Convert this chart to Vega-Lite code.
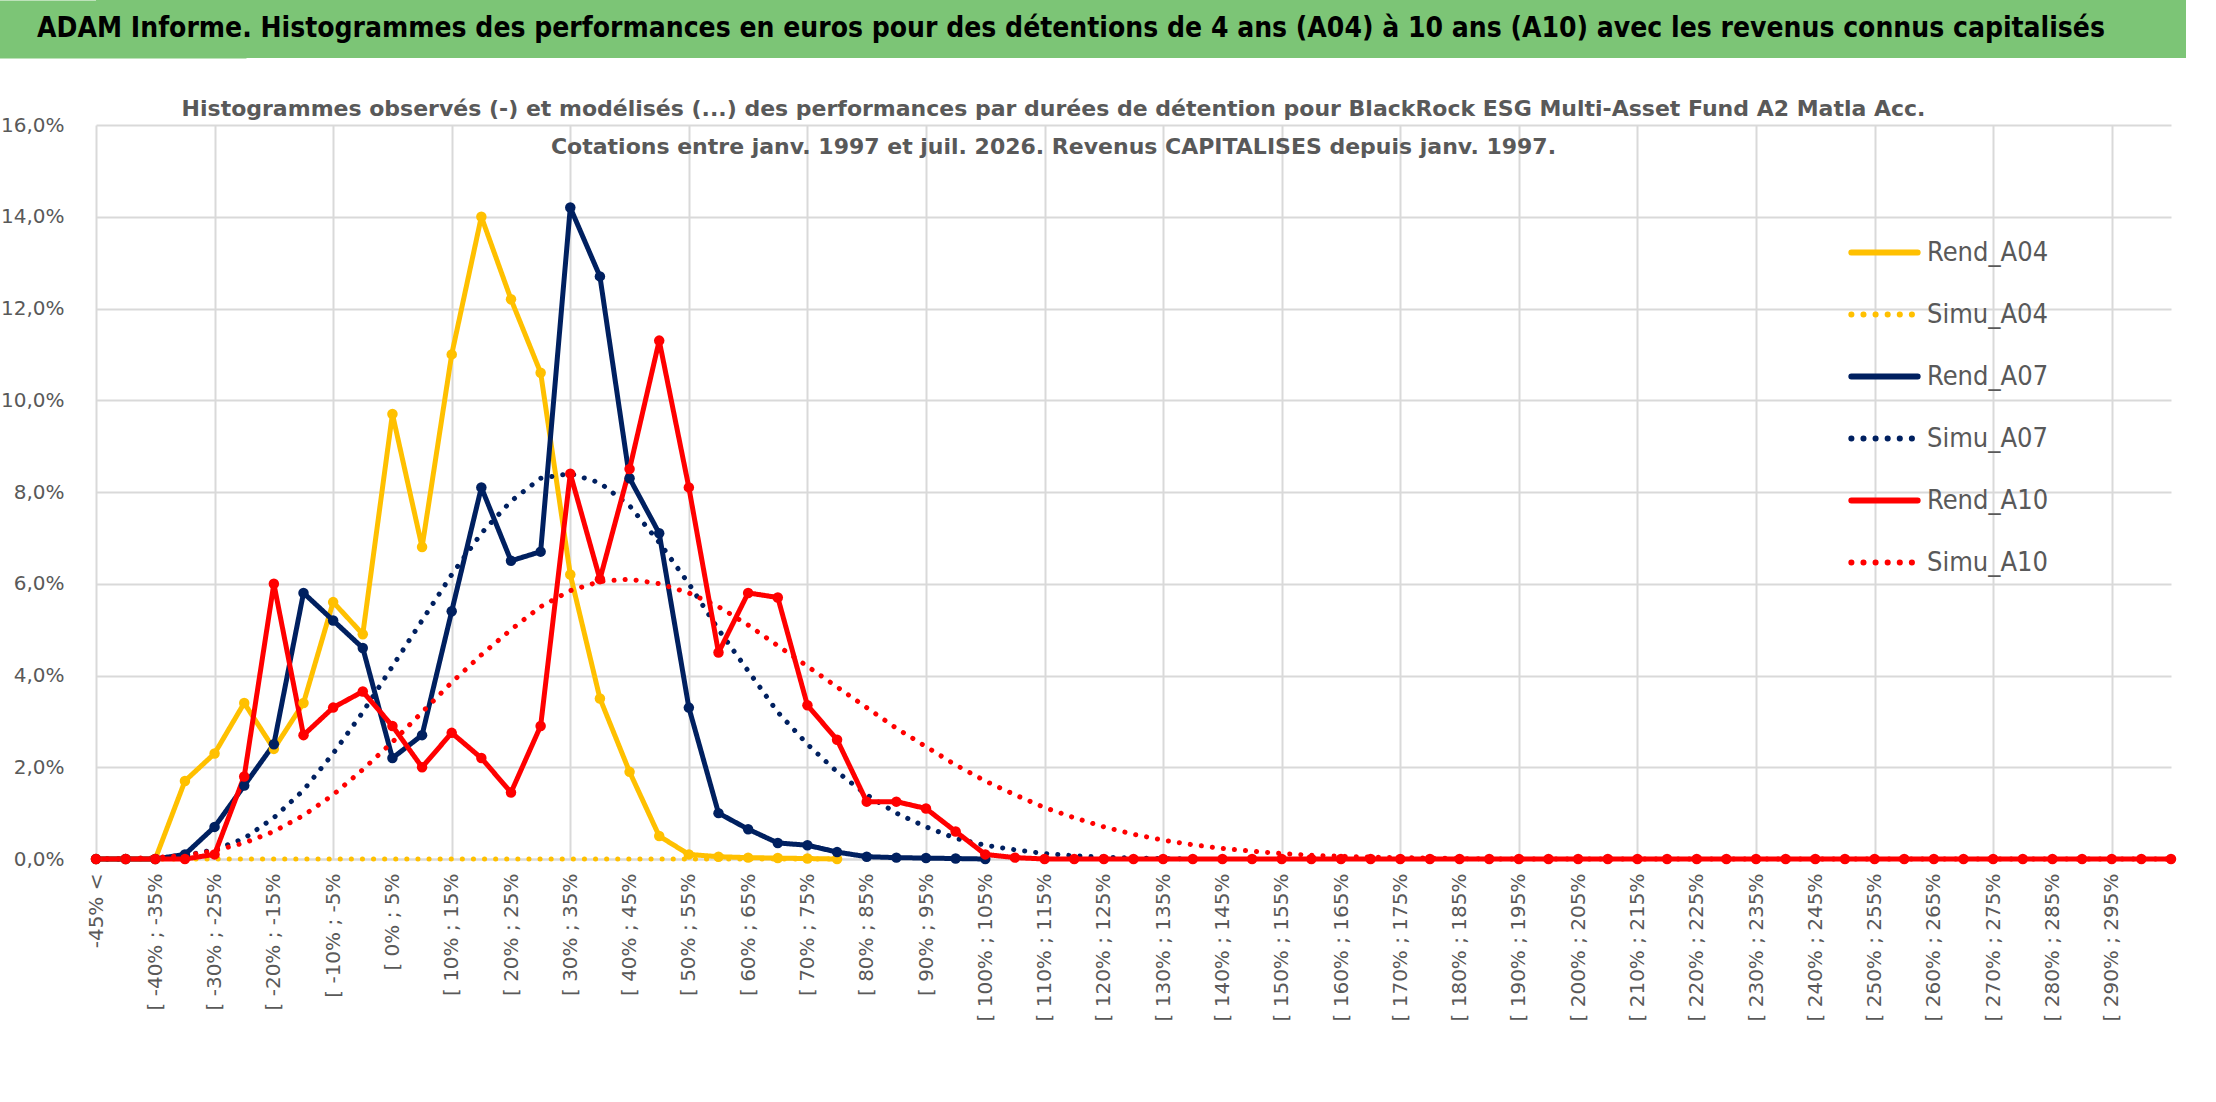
{
  "$schema": "https://vega.github.io/schema/vega-lite/v6.json",
  "padding": 0,
  "background": "white",
  "config": {
    "font": "DejaVu Sans",
    "view": {"stroke": null},
    "concat": {"spacing": 40}
  },
  "vconcat": [
    {
      "width": 2090,
      "height": 58,
      "view": {"fill": "#7cc576", "stroke": null},
      "data": {"values": [{"t": "ADAM Informe. Histogrammes des performances en euros pour des détentions de 4 ans (A04) à 10 ans (A10) avec les revenus connus capitalisés"}]},
      "mark": {"type": "text", "fontSize": 28, "fontWeight": "bold", "color": "black", "font": "DejaVu Sans Condensed", "dx": -70},
      "encoding": {
        "text": {"field": "t"},
        "y": {"field": "t", "type": "nominal", "axis": {"title": null, "labels": false, "ticks": false, "domain": true, "domainColor": "#7cc576", "domainWidth": 300}}
      }
    },
    {
      "width": 2075,
      "height": 734,
      "title": {
        "text": ["Histogrammes observés (-) et modélisés (...) des performances par durées de détention pour BlackRock ESG Multi-Asset Fund A2 Matla Acc.", "Cotations entre janv. 1997 et juil. 2026. Revenus CAPITALISES depuis janv. 1997."],
        "fontSize": 22,
        "fontWeight": "bold",
        "color": "#595959",
        "lineHeight": 38,
        "offset": -44,
        "dx": -80,
        "anchor": "middle"
      },
      "data": {"values": [
        {"c": "-45% <", "A04r": 0, "A04s": 0, "A07r": 0, "A07s": 0, "A10r": 0, "A10s": 0},
        {"c": "[ -45% ; -40%", "A04r": 0, "A04s": 0, "A07r": 0, "A07s": 0, "A10r": 0, "A10s": 0.01},
        {"c": "[ -40% ; -35%", "A04r": 0, "A04s": 0, "A07r": 0, "A07s": 0.02, "A10r": 0, "A10s": 0.03},
        {"c": "[ -35% ; -30%", "A04r": 1.7, "A04s": 0, "A07r": 0.1, "A07s": 0.08, "A10r": 0, "A10s": 0.08},
        {"c": "[ -30% ; -25%", "A04r": 2.3, "A04s": 0, "A07r": 0.7, "A07s": 0.2, "A10r": 0.1, "A10s": 0.18},
        {"c": "[ -25% ; -20%", "A04r": 3.4, "A04s": 0, "A07r": 1.6, "A07s": 0.45, "A10r": 1.8, "A10s": 0.35},
        {"c": "[ -20% ; -15%", "A04r": 2.4, "A04s": 0, "A07r": 2.5, "A07s": 0.9, "A10r": 6.0, "A10s": 0.6},
        {"c": "[ -15% ; -10%", "A04r": 3.4, "A04s": 0, "A07r": 5.8, "A07s": 1.5, "A10r": 2.7, "A10s": 0.95},
        {"c": "[ -10% ; -5%", "A04r": 5.6, "A04s": 0, "A07r": 5.2, "A07s": 2.3, "A10r": 3.3, "A10s": 1.4},
        {"c": "[ -5% ; 0%", "A04r": 4.9, "A04s": 0, "A07r": 4.6, "A07s": 3.2, "A10r": 3.65, "A10s": 1.95},
        {"c": "[ 0% ; 5%", "A04r": 9.7, "A04s": 0, "A07r": 2.2, "A07s": 4.2, "A10r": 2.9, "A10s": 2.55},
        {"c": "[ 5% ; 10%", "A04r": 6.8, "A04s": 0, "A07r": 2.7, "A07s": 5.2, "A10r": 2.0, "A10s": 3.2},
        {"c": "[ 10% ; 15%", "A04r": 11.0, "A04s": 0, "A07r": 5.4, "A07s": 6.2, "A10r": 2.75, "A10s": 3.85},
        {"c": "[ 15% ; 20%", "A04r": 14.0, "A04s": 0, "A07r": 8.1, "A07s": 7.1, "A10r": 2.2, "A10s": 4.45},
        {"c": "[ 20% ; 25%", "A04r": 12.2, "A04s": 0, "A07r": 6.5, "A07s": 7.8, "A10r": 1.45, "A10s": 5.0},
        {"c": "[ 25% ; 30%", "A04r": 10.6, "A04s": 0, "A07r": 6.7, "A07s": 8.3, "A10r": 2.9, "A10s": 5.5},
        {"c": "[ 30% ; 35%", "A04r": 6.2, "A04s": 0, "A07r": 14.2, "A07s": 8.4, "A10r": 8.4, "A10s": 5.85},
        {"c": "[ 35% ; 40%", "A04r": 3.5, "A04s": 0, "A07r": 12.7, "A07s": 8.2, "A10r": 6.1, "A10s": 6.05},
        {"c": "[ 40% ; 45%", "A04r": 1.9, "A04s": 0, "A07r": 8.3, "A07s": 7.7, "A10r": 8.5, "A10s": 6.1},
        {"c": "[ 45% ; 50%", "A04r": 0.5, "A04s": 0, "A07r": 7.1, "A07s": 6.9, "A10r": 11.3, "A10s": 6.0},
        {"c": "[ 50% ; 55%", "A04r": 0.1, "A04s": 0, "A07r": 3.3, "A07s": 6.0, "A10r": 8.1, "A10s": 5.8},
        {"c": "[ 55% ; 60%", "A04r": 0.05, "A04s": 0, "A07r": 1.0, "A07s": 5.0, "A10r": 4.5, "A10s": 5.5},
        {"c": "[ 60% ; 65%", "A04r": 0.03, "A04s": 0, "A07r": 0.65, "A07s": 4.1, "A10r": 5.8, "A10s": 5.1},
        {"c": "[ 65% ; 70%", "A04r": 0.02, "A04s": 0, "A07r": 0.35, "A07s": 3.2, "A10r": 5.7, "A10s": 4.65},
        {"c": "[ 70% ; 75%", "A04r": 0.01, "A04s": 0, "A07r": 0.3, "A07s": 2.5, "A10r": 3.35, "A10s": 4.2},
        {"c": "[ 75% ; 80%", "A04r": 0, "A04s": 0, "A07r": 0.15, "A07s": 1.9, "A10r": 2.6, "A10s": 3.75},
        {"c": "[ 80% ; 85%", "A04r": null, "A04s": null, "A07r": 0.05, "A07s": 1.4, "A10r": 1.25, "A10s": 3.3},
        {"c": "[ 85% ; 90%", "A04r": null, "A04s": null, "A07r": 0.03, "A07s": 1.0, "A10r": 1.25, "A10s": 2.85},
        {"c": "[ 90% ; 95%", "A04r": null, "A04s": null, "A07r": 0.02, "A07s": 0.7, "A10r": 1.1, "A10s": 2.45},
        {"c": "[ 95% ; 100%", "A04r": null, "A04s": null, "A07r": 0.01, "A07s": 0.45, "A10r": 0.6, "A10s": 2.05},
        {"c": "[ 100% ; 105%", "A04r": null, "A04s": null, "A07r": 0, "A07s": 0.3, "A10r": 0.1, "A10s": 1.7},
        {"c": "[ 105% ; 110%", "A04r": null, "A04s": null, "A07r": null, "A07s": 0.2, "A10r": 0.03, "A10s": 1.4},
        {"c": "[ 110% ; 115%", "A04r": null, "A04s": null, "A07r": null, "A07s": 0.12, "A10r": 0, "A10s": 1.12},
        {"c": "[ 115% ; 120%", "A04r": null, "A04s": null, "A07r": null, "A07s": 0.07, "A10r": 0, "A10s": 0.9},
        {"c": "[ 120% ; 125%", "A04r": null, "A04s": null, "A07r": null, "A07s": 0.04, "A10r": 0, "A10s": 0.7},
        {"c": "[ 125% ; 130%", "A04r": null, "A04s": null, "A07r": null, "A07s": 0.02, "A10r": 0, "A10s": 0.54},
        {"c": "[ 130% ; 135%", "A04r": null, "A04s": null, "A07r": null, "A07s": 0.01, "A10r": 0, "A10s": 0.41},
        {"c": "[ 135% ; 140%", "A04r": null, "A04s": null, "A07r": null, "A07s": 0, "A10r": 0, "A10s": 0.31},
        {"c": "[ 140% ; 145%", "A04r": null, "A04s": null, "A07r": null, "A07s": null, "A10r": 0, "A10s": 0.23},
        {"c": "[ 145% ; 150%", "A04r": null, "A04s": null, "A07r": null, "A07s": null, "A10r": 0, "A10s": 0.17},
        {"c": "[ 150% ; 155%", "A04r": null, "A04s": null, "A07r": null, "A07s": null, "A10r": 0, "A10s": 0.12},
        {"c": "[ 155% ; 160%", "A04r": null, "A04s": null, "A07r": null, "A07s": null, "A10r": 0, "A10s": 0.08},
        {"c": "[ 160% ; 165%", "A04r": null, "A04s": null, "A07r": null, "A07s": null, "A10r": 0, "A10s": 0.06},
        {"c": "[ 165% ; 170%", "A04r": null, "A04s": null, "A07r": null, "A07s": null, "A10r": 0, "A10s": 0.04},
        {"c": "[ 170% ; 175%", "A04r": null, "A04s": null, "A07r": null, "A07s": null, "A10r": 0, "A10s": 0.03},
        {"c": "[ 175% ; 180%", "A04r": null, "A04s": null, "A07r": null, "A07s": null, "A10r": 0, "A10s": 0.02},
        {"c": "[ 180% ; 185%", "A04r": null, "A04s": null, "A07r": null, "A07s": null, "A10r": 0, "A10s": 0.01},
        {"c": "[ 185% ; 190%", "A04r": null, "A04s": null, "A07r": null, "A07s": null, "A10r": 0, "A10s": 0},
        {"c": "[ 190% ; 195%", "A04r": null, "A04s": null, "A07r": null, "A07s": null, "A10r": 0, "A10s": 0},
        {"c": "[ 195% ; 200%", "A04r": null, "A04s": null, "A07r": null, "A07s": null, "A10r": 0, "A10s": 0},
        {"c": "[ 200% ; 205%", "A04r": null, "A04s": null, "A07r": null, "A07s": null, "A10r": 0, "A10s": 0},
        {"c": "[ 205% ; 210%", "A04r": null, "A04s": null, "A07r": null, "A07s": null, "A10r": 0, "A10s": 0},
        {"c": "[ 210% ; 215%", "A04r": null, "A04s": null, "A07r": null, "A07s": null, "A10r": 0, "A10s": 0},
        {"c": "[ 215% ; 220%", "A04r": null, "A04s": null, "A07r": null, "A07s": null, "A10r": 0, "A10s": 0},
        {"c": "[ 220% ; 225%", "A04r": null, "A04s": null, "A07r": null, "A07s": null, "A10r": 0, "A10s": 0},
        {"c": "[ 225% ; 230%", "A04r": null, "A04s": null, "A07r": null, "A07s": null, "A10r": 0, "A10s": 0},
        {"c": "[ 230% ; 235%", "A04r": null, "A04s": null, "A07r": null, "A07s": null, "A10r": 0, "A10s": 0},
        {"c": "[ 235% ; 240%", "A04r": null, "A04s": null, "A07r": null, "A07s": null, "A10r": 0, "A10s": 0},
        {"c": "[ 240% ; 245%", "A04r": null, "A04s": null, "A07r": null, "A07s": null, "A10r": 0, "A10s": 0},
        {"c": "[ 245% ; 250%", "A04r": null, "A04s": null, "A07r": null, "A07s": null, "A10r": 0, "A10s": 0},
        {"c": "[ 250% ; 255%", "A04r": null, "A04s": null, "A07r": null, "A07s": null, "A10r": 0, "A10s": 0},
        {"c": "[ 255% ; 260%", "A04r": null, "A04s": null, "A07r": null, "A07s": null, "A10r": 0, "A10s": 0},
        {"c": "[ 260% ; 265%", "A04r": null, "A04s": null, "A07r": null, "A07s": null, "A10r": 0, "A10s": 0},
        {"c": "[ 265% ; 270%", "A04r": null, "A04s": null, "A07r": null, "A07s": null, "A10r": 0, "A10s": 0},
        {"c": "[ 270% ; 275%", "A04r": null, "A04s": null, "A07r": null, "A07s": null, "A10r": 0, "A10s": 0},
        {"c": "[ 275% ; 280%", "A04r": null, "A04s": null, "A07r": null, "A07s": null, "A10r": 0, "A10s": 0},
        {"c": "[ 280% ; 285%", "A04r": null, "A04s": null, "A07r": null, "A07s": null, "A10r": 0, "A10s": 0},
        {"c": "[ 285% ; 290%", "A04r": null, "A04s": null, "A07r": null, "A07s": null, "A10r": 0, "A10s": 0},
        {"c": "[ 290% ; 295%", "A04r": null, "A04s": null, "A07r": null, "A07s": null, "A10r": 0, "A10s": 0},
        {"c": "[ 295% ; 300%", "A04r": null, "A04s": null, "A07r": null, "A07s": null, "A10r": 0, "A10s": 0},
        {"c": "[ 300% ; 305%", "A04r": null, "A04s": null, "A07r": null, "A07s": null, "A10r": 0, "A10s": 0}
      ]},
      "transform": [
        {"fold": ["A04r", "A04s", "A07r", "A07s", "A10r", "A10s"], "as": ["k", "v"]},
        {"filter": "isValid(datum.v)"},
        {"calculate": "{'A04r':'Rend_A04','A04s':'Simu_A04','A07r':'Rend_A07','A07s':'Simu_A07','A10r':'Rend_A10','A10s':'Simu_A10'}[datum.k]", "as": "serie"}
      ],
      "resolve": {"axis": {"x": "independent"}},
      "layer": [
        {
          "mark": {"type": "line", "strokeWidth": 5, "strokeCap": "round", "strokeJoin": "round"},
          "encoding": {
            "x": {
              "field": "c", "type": "ordinal", "sort": null,
              "scale": {"type": "point", "padding": 0},
              "axis": {
                "title": null, "labelAngle": -90, "labelFontSize": 20, "labelColor": "#595959",
                "labelPadding": 14, "ticks": false, "grid": false, "domainColor": "#d9d9d9", "domainWidth": 2,
                "values": ["-45% <", "[ -40% ; -35%", "[ -30% ; -25%", "[ -20% ; -15%", "[ -10% ; -5%", "[ 0% ; 5%", "[ 10% ; 15%", "[ 20% ; 25%", "[ 30% ; 35%", "[ 40% ; 45%", "[ 50% ; 55%", "[ 60% ; 65%", "[ 70% ; 75%", "[ 80% ; 85%", "[ 90% ; 95%", "[ 100% ; 105%", "[ 110% ; 115%", "[ 120% ; 125%", "[ 130% ; 135%", "[ 140% ; 145%", "[ 150% ; 155%", "[ 160% ; 165%", "[ 170% ; 175%", "[ 180% ; 185%", "[ 190% ; 195%", "[ 200% ; 205%", "[ 210% ; 215%", "[ 220% ; 225%", "[ 230% ; 235%", "[ 240% ; 245%", "[ 250% ; 255%", "[ 260% ; 265%", "[ 270% ; 275%", "[ 280% ; 285%", "[ 290% ; 295%"]
              }
            },
            "y": {
              "field": "v", "type": "quantitative",
              "scale": {"domain": [0, 16]},
              "axis": {
                "title": null, "values": [0, 2, 4, 6, 8, 10, 12, 14, 16],
                "labelExpr": "replace(format(datum.value, '.1f'), '.', ',') + '%'",
                "labelFontSize": 20, "labelColor": "#595959", "ticks": false, "domain": false,
                "gridColor": "#d9d9d9", "gridWidth": 2, "labelPadding": 32
              }
            },
            "color": {
              "field": "serie", "type": "nominal",
              "scale": {
                "domain": ["Rend_A04", "Simu_A04", "Rend_A07", "Simu_A07", "Rend_A10", "Simu_A10"],
                "range": ["#ffc000", "#ffc000", "#002060", "#002060", "#ff0000", "#ff0000"]
              },
              "legend": {
                "title": null, "orient": "none", "legendX": 1752, "legendY": 216,
                "symbolType": "stroke", "symbolSize": 4400, "symbolStrokeWidth": 6,
                "labelFontSize": 27, "labelFont": "DejaVu Sans Condensed", "labelColor": "#595959",
                "rowPadding": 12, "labelOffset": 6,
                "encode": {"symbols": {"update": {
                  "strokeDash": {"signal": "indexof(datum.label, 'Simu') == 0 ? [0.1, 12] : [1, 0]"},
                  "strokeCap": {"value": "round"}
                }}}
              }
            },
            "strokeDash": {
              "field": "serie", "type": "nominal", "legend": null,
              "scale": {
                "domain": ["Rend_A04", "Simu_A04", "Rend_A07", "Simu_A07", "Rend_A10", "Simu_A10"],
                "range": [[1, 0], [0.1, 11], [1, 0], [0.1, 11], [1, 0], [0.1, 11]]
              }
            }
          }
        },
        {
          "transform": [{"filter": "indexof(datum.serie, 'Rend') == 0"}],
          "mark": {"type": "point", "filled": true, "opacity": 1, "size": 110},
          "encoding": {
            "x": {"field": "c", "type": "ordinal", "sort": null, "axis": {"title": null, "grid": true, "gridColor": "#d9d9d9", "gridWidth": 2, "labels": false, "ticks": false, "domain": false,
              "values": ["-45% <", "[ -30% ; -25%", "[ -10% ; -5%", "[ 10% ; 15%", "[ 30% ; 35%", "[ 50% ; 55%", "[ 70% ; 75%", "[ 90% ; 95%", "[ 110% ; 115%", "[ 130% ; 135%", "[ 150% ; 155%", "[ 170% ; 175%", "[ 190% ; 195%", "[ 210% ; 215%", "[ 230% ; 235%", "[ 250% ; 255%", "[ 270% ; 275%", "[ 290% ; 295%"]}},
            "y": {"field": "v", "type": "quantitative"},
            "color": {
              "field": "serie", "type": "nominal", "legend": null,
              "scale": {"domain": ["Rend_A04", "Rend_A07", "Rend_A10"], "range": ["#ffc000", "#44546a", "#ff0000"]}
            }
          }
        }
      ]
    }
  ]
}
